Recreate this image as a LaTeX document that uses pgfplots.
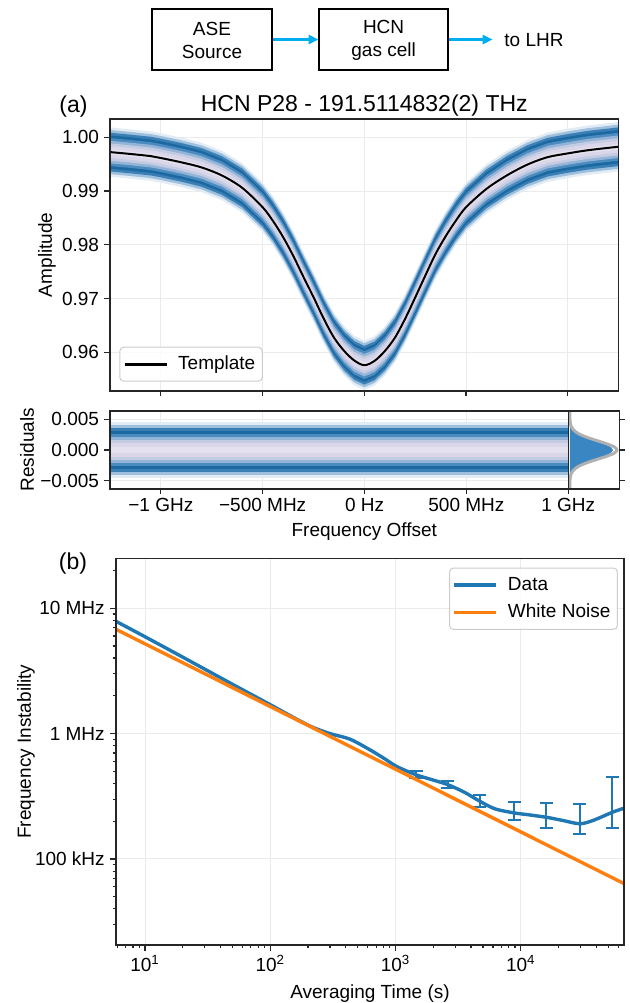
\documentclass[border=0pt]{standalone}
\usepackage{fontspec}
\setmainfont{Liberation Sans}
\usepackage{pgfplots}
\pgfplotsset{compat=1.18}
\usepackage{pgfplotstable}
\usetikzlibrary{arrows.meta}

\definecolor{mplblue}{HTML}{1F77B4}
\definecolor{mplorange}{HTML}{FF7F0E}
\definecolor{arrowc}{HTML}{00AEEF}
\definecolor{histblue}{HTML}{3A86C3}
\definecolor{histgrey}{HTML}{B0B0B0}
\definecolor{spine}{HTML}{262626}
\definecolor{b1}{HTML}{E2ECF5}
\definecolor{b2}{HTML}{9EC0DD}
\definecolor{b3}{HTML}{3A80B6}
\definecolor{b4}{HTML}{1C68A0}
\definecolor{b5}{HTML}{4A8BC0}
\definecolor{b6}{HTML}{93B3D7}
\definecolor{b7}{HTML}{C4CCE3}
\definecolor{b8}{HTML}{DAD6EA}
\definecolor{b9}{HTML}{E4E0EE}

\pgfplotsset{
  myaxis/.style={
    scale only axis, anchor=north west,
    clip mode=individual,
    scaled x ticks=false, scaled y ticks=false,
    axis line style={spine, line width=0.8pt},
    tick style={spine, line width=0.6pt},
    tick align=outside,
    major tick length=2.8pt, minor tick length=1.6pt,
    grid style={color=black!8, line width=0.5pt},
    /pgf/number format/assume math mode=true,
    xticklabel style={inner sep=2pt},
    yticklabel style={inner sep=2.5pt},
  },
}
\newcommand\frameaxis{\draw[spine, line width=0.8pt] (rel axis cs:0,0) rectangle (rel axis cs:1,1);}

% template fit
\pgfplotstableread{
x y
-1.25 0.99725
-1.15 0.99690
-1.05 0.99650
-1.0 0.99615
-0.9 0.99535
-0.8 0.99440
-0.7 0.99290
-0.6 0.99060
-0.5 0.98700
-0.45 0.98450
-0.4 0.98150
-0.35 0.97800
-0.3 0.97410
-0.25 0.97030
-0.2 0.96630
-0.15 0.96280
-0.1 0.96030
-0.05 0.95850
0 0.95760
0.05 0.95840
0.1 0.96020
0.15 0.96270
0.2 0.96620
0.25 0.97020
0.3 0.97430
0.35 0.97830
0.4 0.98160
0.45 0.98450
0.5 0.98700
0.6 0.99040
0.7 0.99290
0.8 0.99490
0.9 0.99630
1.0 0.99700
1.1 0.99760
1.25 0.99825
}\tmpl

% data band outline: template traced forward (s=1) and back (s=-1)
\pgfplotstableread{
x y s
-1.3 0.99740 1
-1.25 0.99725 1
-1.15 0.99690 1
-1.05 0.99650 1
-1.0 0.99615 1
-0.9 0.99535 1
-0.8 0.99440 1
-0.7 0.99290 1
-0.6 0.99060 1
-0.5 0.98700 1
-0.45 0.98450 1
-0.4 0.98150 1
-0.35 0.97800 1
-0.3 0.97410 1
-0.25 0.97030 1
-0.2 0.96630 1
-0.15 0.96280 1
-0.1 0.96030 1
-0.05 0.95850 1
0 0.95760 1
0.05 0.95840 1
0.1 0.96020 1
0.15 0.96270 1
0.2 0.96620 1
0.25 0.97020 1
0.3 0.97430 1
0.35 0.97830 1
0.4 0.98160 1
0.45 0.98450 1
0.5 0.98700 1
0.6 0.99040 1
0.7 0.99290 1
0.8 0.99490 1
0.9 0.99630 1
1.0 0.99700 1
1.1 0.99760 1
1.25 0.99825 1
1.3 0.99840 1
1.3 0.99840 -1
1.25 0.99825 -1
1.1 0.99760 -1
1.0 0.99700 -1
0.9 0.99630 -1
0.8 0.99490 -1
0.7 0.99290 -1
0.6 0.99040 -1
0.5 0.98700 -1
0.45 0.98450 -1
0.4 0.98160 -1
0.35 0.97830 -1
0.3 0.97430 -1
0.25 0.97020 -1
0.2 0.96620 -1
0.15 0.96270 -1
0.1 0.96020 -1
0.05 0.95840 -1
0 0.95760 -1
-0.05 0.95850 -1
-0.1 0.96030 -1
-0.15 0.96280 -1
-0.2 0.96630 -1
-0.25 0.97030 -1
-0.3 0.97410 -1
-0.35 0.97800 -1
-0.4 0.98150 -1
-0.45 0.98450 -1
-0.5 0.98700 -1
-0.6 0.99060 -1
-0.7 0.99290 -1
-0.8 0.99440 -1
-0.9 0.99535 -1
-1.0 0.99615 -1
-1.05 0.99650 -1
-1.15 0.99690 -1
-1.25 0.99725 -1
-1.3 0.99740 -1
}\bandtab

\pgfplotstableread{
x y
5.83 7.88e6
10 5.92e6
20 4.07e6
50 2.47e6
100 1.70e6
150 1.36e6
215 1.13e6
300 1.00e6
430 0.905e6
600 0.76e6
798 0.640e6
1024 0.546e6
1459 0.469e6
1905 0.432e6
2606 0.392e6
3558 0.340e6
4699 0.289e6
6230 0.251e6
8870 0.233e6
11590 0.225e6
16030 0.215e6
21600 0.203e6
29500 0.191e6
37800 0.203e6
53950 0.236e6
66700 0.254e6
}\adev

\pgfplotstableread{
x y ep em
1459 0.469e6 0.032e6 0.025e6
2606 0.392e6 0.030e6 0.025e6
4699 0.289e6 0.035e6 0.030e6
8870 0.233e6 0.054e6 0.028e6
16030 0.215e6 0.066e6 0.038e6
29500 0.191e6 0.081e6 0.034e6
53950 0.236e6 0.213e6 0.060e6
}\errtab

\newcommand\band[2]{%
  \addplot[fill=#2, draw=none, forget plot] table[x=x, y expr=\thisrow{y}+\thisrow{s}*#1]{\bandtab} -- cycle;
}
\newcommand\rband[2]{%
  \addplot[fill=#2, draw=none, forget plot] coordinates {(-1.3,-#1) (1.05,-#1) (1.05,#1) (-1.3,#1)} -- cycle;
}

\begin{document}
\fontsize{9.5}{11.5}\selectfont
\begin{tikzpicture}
\path[use as bounding box] (0pt,0pt) rectangle (314.5pt,-501.5pt);

% ---------- panel (a) ----------
\begin{axis}[myaxis, at={(55pt,-59.5pt)}, width=254.15pt, height=135.85pt,
  xmin=-1.2496, xmax=1.248, ymin=0.95286, ymax=1.0034,
  xtick={-1,-0.5,0,0.5,1}, xticklabels={},
  ytick={0.96,0.97,0.98,0.99,1.00}, yticklabels={0.96,0.97,0.98,0.99,1.00},
  tick pos=left, grid=major,
  legend cell align=left,
  legend image code/.code={\draw[#1, line width=1.7pt] (0pt,0pt) -- (21pt,0pt);},
  legend style={at={(axis description cs:0.0183,0.0331)}, anchor=south west,
    draw=black!20, line width=0.5pt, rounded corners=2pt, fill=white, fill opacity=0.8, text opacity=1,
    inner xsep=1.5pt, inner ysep=2pt,
    nodes={inner xsep=2pt, inner ysep=2pt, text height=7pt, text depth=2pt},
    /tikz/every odd column/.append style={column sep=3pt}},
]
\band{0.0046}{b1}
\band{0.0041}{b2}
\band{0.0036}{b3}
\band{0.0031}{b4}
\band{0.0026}{b5}
\band{0.0021}{b6}
\band{0.0016}{b7}
\band{0.0011}{b8}
\band{0.0005}{b9}
\addplot[black, line width=1pt, smooth] table[x=x,y=y] {\tmpl};
\addlegendentry{Template}
\frameaxis
\end{axis}

% ---------- residuals ----------
\begin{axis}[myaxis, at={(55pt,-205.5pt)}, width=229.15pt, height=38.85pt,
  xmin=-1.2496, xmax=1.0, ymin=-0.0063, ymax=0.00635,
  xtick={-1,-0.5,0,0.5,1}, xticklabels={−1 GHz,−500 MHz,0 Hz,500 MHz,1 GHz},
  ytick={-0.005,0,0.005}, yticklabels={−0.005,0.000,0.005},
  tick pos=left, grid=major,
]
\rband{0.0046}{b1}
\rband{0.0041}{b2}
\rband{0.0036}{b3}
\rband{0.0031}{b4}
\rband{0.0026}{b5}
\rband{0.0021}{b6}
\rband{0.0016}{b7}
\rband{0.0011}{b8}
\rband{0.0005}{b9}
\frameaxis
\end{axis}

% ---------- histogram ----------
\begin{axis}[myaxis, at={(284.15pt,-205.5pt)}, width=25.5pt, height=38.85pt,
  xmin=-0.032, xmax=1.048, ymin=-0.0063, ymax=0.00635,
  xtick=\empty, ytick={-0.005,0,0.005}, yticklabels={},
  ytick pos=right,
]
\addplot[fill=histblue, draw=none] coordinates {
(0,-0.0063) (0.0007,-0.0055) (0.0024,-0.005) (0.0074,-0.0045) (0.020,-0.004) (0.050,-0.0035)
(0.108,-0.003) (0.207,-0.0025) (0.354,-0.002) (0.538,-0.0015) (0.723,-0.001) (0.865,-0.0005)
(0.918,0) (0.865,0.0005) (0.723,0.001) (0.538,0.0015) (0.354,0.002) (0.207,0.0025)
(0.108,0.003) (0.050,0.0035) (0.020,0.004) (0.0074,0.0045) (0.0024,0.005) (0.0007,0.0055) (0,0.0063)
} -- cycle;
\addplot[histgrey, line width=1.5pt, smooth] coordinates {
(0,-0.0063) (0.0008,-0.0055) (0.0026,-0.005) (0.008,-0.0045) (0.022,-0.004) (0.054,-0.0035)
(0.118,-0.003) (0.226,-0.0025) (0.386,-0.002) (0.586,-0.0015) (0.788,-0.001) (0.942,-0.0005)
(1.0,0) (0.942,0.0005) (0.788,0.001) (0.586,0.0015) (0.386,0.002) (0.226,0.0025)
(0.118,0.003) (0.054,0.0035) (0.022,0.004) (0.008,0.0045) (0.0026,0.005) (0.0008,0.0055) (0,0.0063)
};
\frameaxis
\end{axis}

% ---------- panel (b) ----------
\begin{axis}[myaxis, xmode=log, ymode=log, at={(57.85pt,-279.15pt)}, width=254.15pt, height=193.35pt,
  xmin=5.83, xmax=66700, ymin=20600, ymax=2.5e7,
  xtick={10,100,1000,10000},
  xticklabels={10\textsuperscript{1},10\textsuperscript{2},10\textsuperscript{3},10\textsuperscript{4}},
  minor xtick={6,7,8,9,20,30,40,50,60,70,80,90,200,300,400,500,600,700,800,900,2000,3000,4000,5000,6000,7000,8000,9000,20000,30000,40000,50000,60000},
  ytick={1e5,1e6,1e7}, yticklabels={100 kHz,1 MHz,10 MHz},
  minor ytick={30000,40000,50000,60000,70000,80000,90000,2e5,3e5,4e5,5e5,6e5,7e5,8e5,9e5,2e6,3e6,4e6,5e6,6e6,7e6,8e6,9e6,2e7},
  tick pos=left, grid=major,
  legend cell align=left,
  legend image code/.code={\draw[#1, line width=1.7pt] (0pt,0pt) -- (21pt,0pt);},
  legend style={at={(axis description cs:0.988,0.976)}, anchor=north east,
    draw=black!20, line width=0.5pt, rounded corners=2pt, fill=white, fill opacity=0.8, text opacity=1,
    inner xsep=1.5pt, inner ysep=2pt, row sep=0.65pt,
    nodes={inner xsep=2pt, inner ysep=2pt, text height=7pt, text depth=2pt},
    /tikz/every odd column/.append style={column sep=3pt}},
]
\addplot[mplblue, line width=1.7pt, smooth] table[x=x,y=y] {\adev};
\addlegendentry{Data}
\addplot[draw=none, mark=none, forget plot,
  error bars/.cd, y dir=both, y explicit, error mark=none,
  error bar style={draw=mplblue, solid, line width=1pt}]
  table[x=x, y=y, y error plus=ep, y error minus=em] {\errtab};
\addplot[mplblue, only marks, mark=-, mark size=3.3pt, mark options={line width=1pt, solid}, forget plot]
  table[x=x, y expr=\thisrow{y}+\thisrow{ep}] {\errtab};
\addplot[mplblue, only marks, mark=-, mark size=3.3pt, mark options={line width=1pt, solid}, forget plot]
  table[x=x, y expr=\thisrow{y}-\thisrow{em}] {\errtab};
\addplot[mplorange, line width=1.7pt] coordinates {(5.83,6.809e6) (66700,6.365e4)};
\addlegendentry{White Noise}
\frameaxis
\end{axis}

% ---------- diagram and labels ----------
\begin{scope}[x=0.5pt, y=-0.5pt]
\draw[line width=1pt] (151.7,9) rectangle (272.3,70);
\node[align=center, font=\fontsize{9.5}{11.5}\selectfont] at (212,40) {ASE\\Source};
\draw[line width=1pt] (319,9) rectangle (448.3,70);
\node[align=center, font=\fontsize{9.5}{11.5}\selectfont] at (383.6,40) {HCN\\gas cell};
\draw[arrowc, line width=1.5pt, -{Triangle[length=5pt,width=4.5pt]}] (272.8,39.5) -- (318.5,39.5);
\draw[arrowc, line width=1.5pt, -{Triangle[length=5pt,width=4.5pt]}] (448.8,39.5) -- (492.7,39.5);
\node[anchor=west, inner sep=0pt] at (504,40) {to LHR};

\node[anchor=base, font=\fontsize{11.5}{13}\selectfont] at (364.3,111) {HCN P28 - 191.5114832(2) THz};
\node[anchor=base, font=\fontsize{11.5}{13}\selectfont] at (73.5,112) {(a)};
\node[anchor=base, font=\fontsize{11.5}{13}\selectfont] at (73,569) {(b)};
\node[anchor=base] at (364.3,536) {Frequency Offset};
\node[anchor=base] at (370,998) {Averaging Time (s)};
\node[rotate=90, anchor=center] at (47,254.8) {Amplitude};
\node[rotate=90, anchor=center] at (27,449.8) {Residuals};
\node[rotate=90, anchor=center] at (26,751.6) {Frequency Instability};
\end{scope}
\end{tikzpicture}
\end{document}
